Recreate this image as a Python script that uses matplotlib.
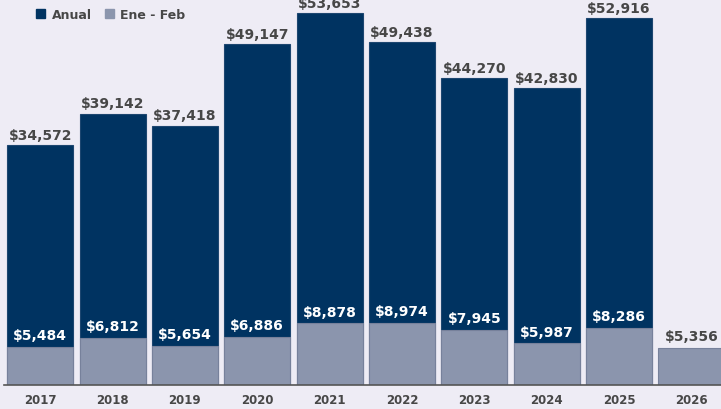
import matplotlib
matplotlib.use("Agg")
from matplotlib import pyplot as plt
from matplotlib.patches import Patch

years = ["2017", "2018", "2019", "2020", "2021", "2022", "2023", "2024", "2025", "2026"]
anual = [34572, 39142, 37418, 49147, 53653, 49438, 44270, 42830, 52916, None]
ene_feb = [5484, 6812, 5654, 6886, 8878, 8974, 7945, 5987, 8286, 5356]

bg = "#EEECF5"
navy = "#003361"
gris = "#8B95AD"
texto = "#474747"

fig = plt.figure(figsize=(7.21, 4.10), dpi=100, facecolor=bg)
ax = fig.add_axes([4 / 721, 24 / 410, 717 / 721, 386 / 410], facecolor=bg)

x = list(range(len(years)))
w = 0.912

for i in x:
    if anual[i] is not None:
        ax.bar(i, anual[i], width=w, color=navy, edgecolor="#1d4670", linewidth=0.8, zorder=2)
        ax.text(i, anual[i] + 450, f"${anual[i]:,}", ha="center", va="bottom",
                fontsize=10, fontweight="bold", color=texto, zorder=4)
    ax.bar(i, ene_feb[i], width=w, color=gris, edgecolor="#77819b", linewidth=0.8, zorder=3)
    lbl_color = "white" if anual[i] is not None else texto
    ax.text(i, ene_feb[i] + 700, f"${ene_feb[i]:,}", ha="center", va="bottom",
            fontsize=10, fontweight="bold", color=lbl_color, zorder=4)

ax.set_xlim(-0.5, 9.41)
ax.set_ylim(0, 55670)
ax.set_yticks([])
ax.set_xticks(x)
ax.set_xticklabels(years, fontsize=8.5, fontweight="bold", color=texto)
ax.tick_params(axis="x", length=0, pad=6)
for s in ["top", "right", "left"]:
    ax.spines[s].set_visible(False)
ax.spines["bottom"].set_color("#555555")
ax.spines["bottom"].set_linewidth(1.2)
ax.spines["bottom"].set_zorder(5)

handles = [Patch(color=navy, label="Anual"), Patch(color=gris, label="Ene - Feb")]
leg = fig.legend(handles=handles, loc="upper left", bbox_to_anchor=(0.035, 1.005), ncol=2,
                 frameon=False, handlelength=0.7, handleheight=0.7, handletextpad=0.5,
                 columnspacing=1.1, prop={"weight": "bold", "size": 9})
for t in leg.get_texts():
    t.set_color(texto)

fig.savefig("out.png", dpi=100, facecolor=bg)
